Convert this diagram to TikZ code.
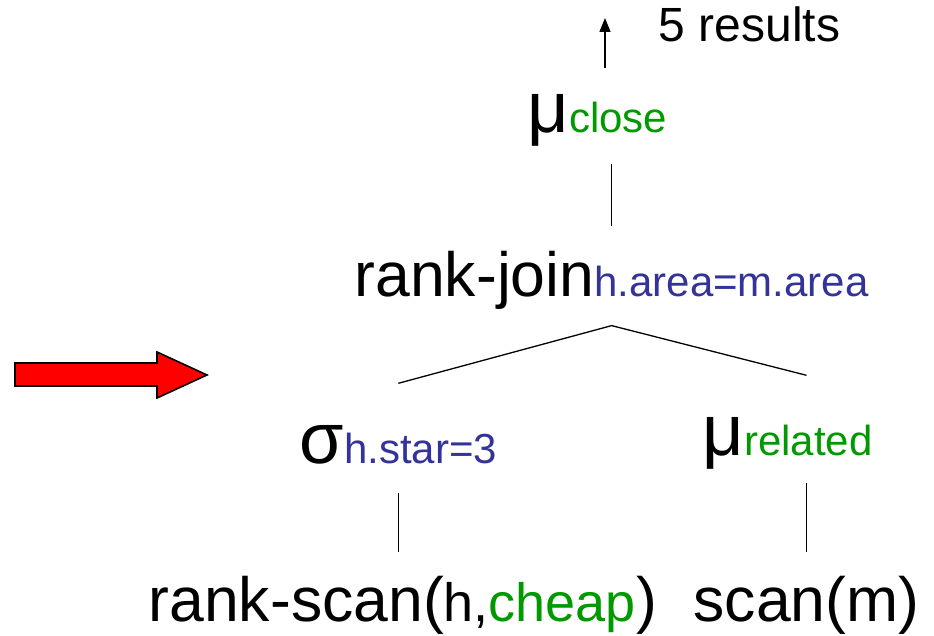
\documentclass[tikz,border=0pt]{standalone}
\usepackage{fontspec}
\setmainfont{Liberation Sans}
\usetikzlibrary{arrows.meta}
\definecolor{cgreen}{RGB}{0,153,0}
\definecolor{cblue}{RGB}{51,51,153}
\newcommand{\bigtxt}{\fontsize{62.5}{70}\selectfont}
\newcommand{\grk}{\fontsize{72}{76}\selectfont}
\newcommand{\sbs}[2]{{\fontsize{42}{46}\selectfont\color{#1}#2}}

\begin{document}
\begin{tikzpicture}[
x=1pt, y=-1pt,
line width=1.3pt,
lbl/.style={
    inner sep=0pt,
    anchor=base west,
    font=\bigtxt
    },
redarrow/.style={
    fill=red,
    draw=black,
    line width=1.6pt,
    line join=miter
    },
]
\useasboundingbox (0,0) rectangle (934,636);

\node[lbl, font=\fontsize{48}{52}\selectfont] (res) at (658,42) {5 results};
\node[lbl] (close) at (527,133) {{\grk μ}\sbs{cgreen}{close}};
\node[lbl] (join) at (354,297) {rank-join\sbs{cblue}{h.area=m.area}};
\node[lbl] (sel) at (299,463) {{\grk σ}\sbs{cblue}{h.star=3}};
\node[lbl] (rel) at (702,455) {{\grk μ}\sbs{cgreen}{related}};
\node[lbl] (rscan) at (148,621) {rank-scan({\fontsize{54}{60}\selectfont h,\color{cgreen}cheap})};
\node[lbl] (scan) at (693,621) {scan(m)};

% output and plan edges
\coordinate (top) at (605,18);
\draw[-{Triangle[length=14pt,width=11pt]}, shorten <=26pt] (close.north -| top) -- (top);
\draw[shorten <=25pt, shorten >=17pt] (join.north) -- (join.north |- close.south);

\coordinate (apex) at ([yshift=-15pt]join.south);
\coordinate (lft) at ([yshift=41pt]sel.north);
\coordinate (rgt) at ([yshift=41pt]rel.north -| scan.north);
\draw (lft) -- (apex) -- (rgt);

\draw[shorten <=29pt, shorten >=23pt] (sel.south) -- (sel.south |- rscan.north);
\draw[shorten <=14pt, shorten >=23pt] (rel.south -| scan.north) -- (scan.north);

% red pointer
\draw[redarrow] (15,363) -- (157,363) -- (157,352) -- (207,375) -- (157,398) -- (157,386) -- (15,386) -- cycle;
\end{tikzpicture}
\end{document}
